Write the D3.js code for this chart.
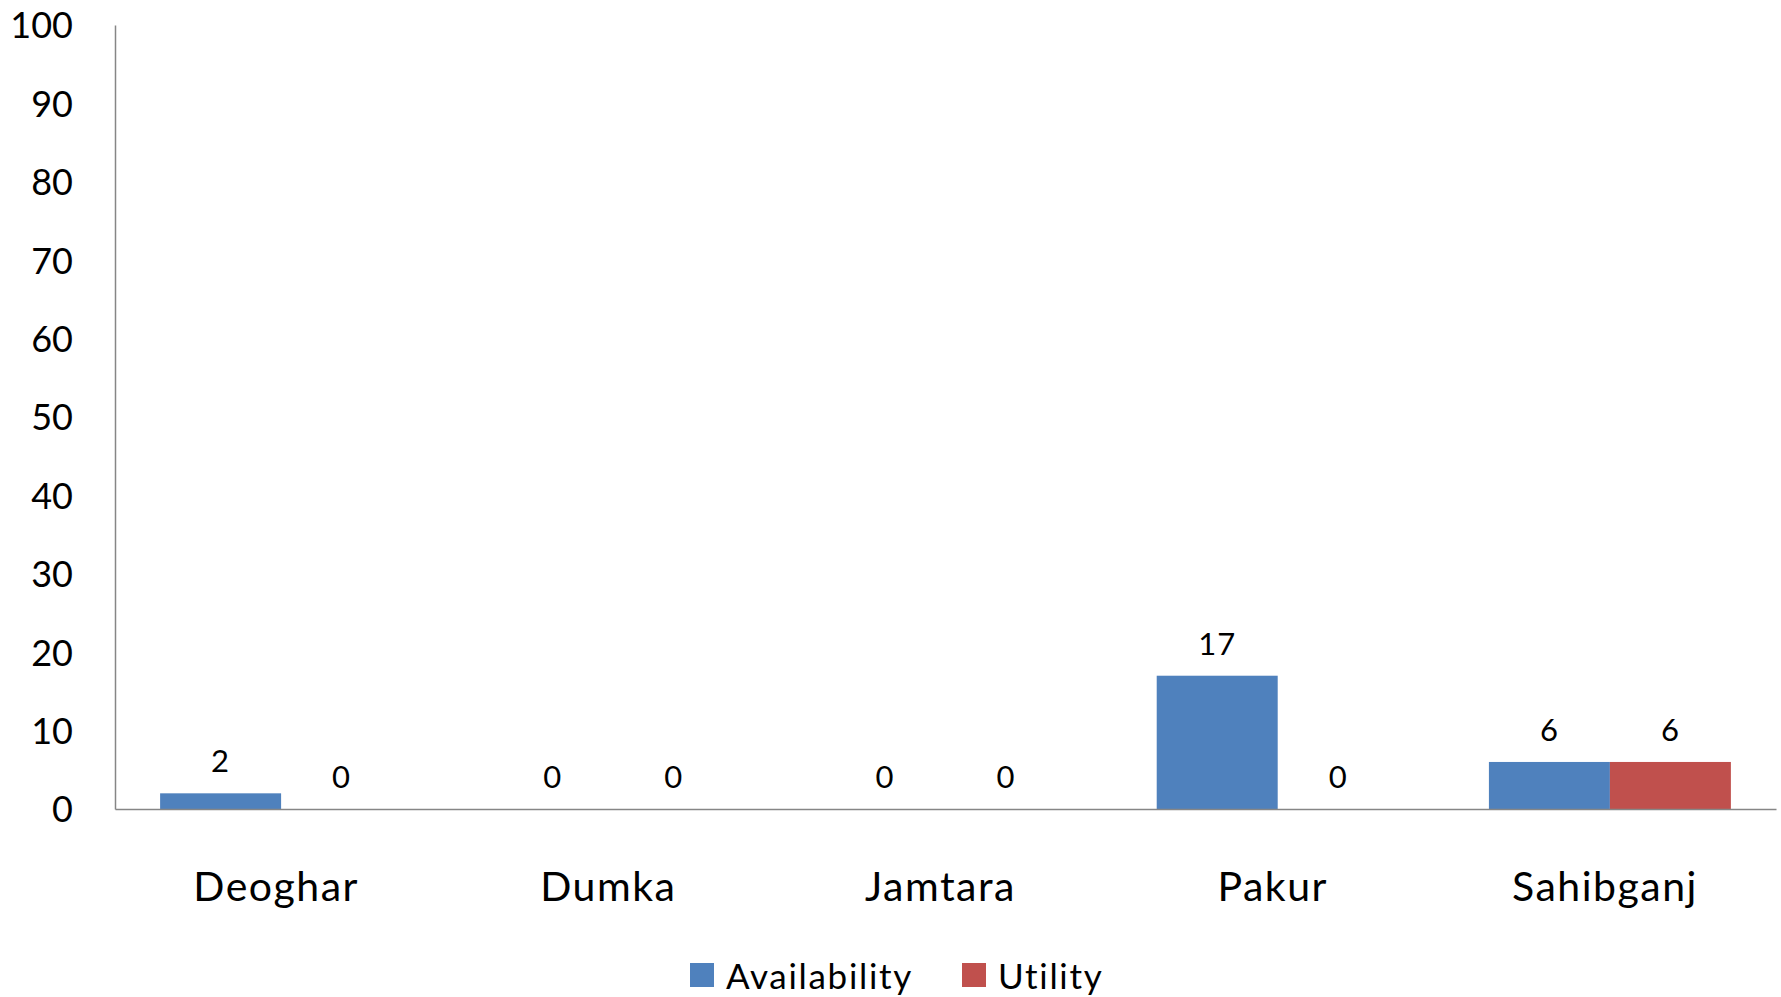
<!DOCTYPE html>
<html><head><meta charset="utf-8">
<script src="https://cdn.jsdelivr.net/npm/d3@7"></script>
<style>html,body{margin:0;padding:0;background:#fff;}svg{display:block;font-family:Lato,"Open Sans",sans-serif;}</style>
</head><body>
<svg id="c" width="1781" height="997"></svg>
<script>
const categories = ["Deoghar","Dumka","Jamtara","Pakur","Sahibganj"];
const seriesNames = ["Availability","Utility"];
const availability = [2,0,0,17,6];
const utility = [0,0,0,0,6];
const yTicks = [0,10,20,30,40,50,60,70,80,90,100];
const colors = ["#4F81BD","#C0504D"];

(function(){
const svg = d3.select("#c");
const mLeft = 115, mRight = 1776, mTop = 25, mBottom = 809;
const y = d3.scaleLinear().domain([0,100]).range([mBottom, mTop]);
const p = 0.2716;
const x0 = d3.scaleBand().domain(categories).range([mLeft, mRight]).paddingInner(p).paddingOuter(p/2);
const x1 = d3.scaleBand().domain(seriesNames).range([0, x0.bandwidth()]);

const data = categories.map((c,i)=>({cat:c, vals:[availability[i], utility[i]]}));

// y axis
const yAxis = d3.axisLeft(y).tickValues(yTicks).tickSize(0).tickPadding(42);
const gy = svg.append("g").attr("transform",`translate(${mLeft},0)`).call(yAxis);
gy.select(".domain").attr("stroke","#868686").attr("stroke-width",1.5);
gy.selectAll("text").attr("font-size",36).attr("fill","#000").attr("font-family","Lato").attr("dy","0.36em");

// bars
const g = svg.append("g");
data.forEach(d=>{
  d.vals.forEach((v,j)=>{
    const bx = x0(d.cat)+x1(seriesNames[j]);
    g.append("rect").attr("x",bx).attr("y",y(v)).attr("width",x1.bandwidth()).attr("height",y(0)-y(v)).attr("fill",colors[j]);
    g.append("text").attr("x",bx+x1.bandwidth()/2).attr("y",y(v)-32).attr("dy","0.36em")
      .attr("text-anchor","middle").attr("font-size",31).attr("letter-spacing",1).attr("fill","#000").text(v);
  });
});

// x axis
const xAxis = d3.axisBottom(x0).tickSize(0).tickPadding(60);
const gx = svg.append("g").attr("transform",`translate(0,${mBottom})`).call(xAxis);
gx.select(".domain").attr("stroke","#868686").attr("stroke-width",1.5);
gx.selectAll("text").attr("font-size",41).attr("letter-spacing",1.5).attr("fill","#000").attr("font-family","Lato")
  .attr("dy","0.36em").attr("y",77).attr("dx",-5);

// legend
const legendX = [690, 962];
const lg = svg.append("g");
seriesNames.forEach((s,i)=>{
  lg.append("rect").attr("x",legendX[i]).attr("y",963).attr("width",24).attr("height",24).attr("fill",colors[i]);
  lg.append("text").attr("x",legendX[i]+36).attr("y",976).attr("dy","0.36em").attr("font-size",35).attr("letter-spacing",1.7).attr("fill","#000").text(s);
});
})();
</script>
</body></html>
